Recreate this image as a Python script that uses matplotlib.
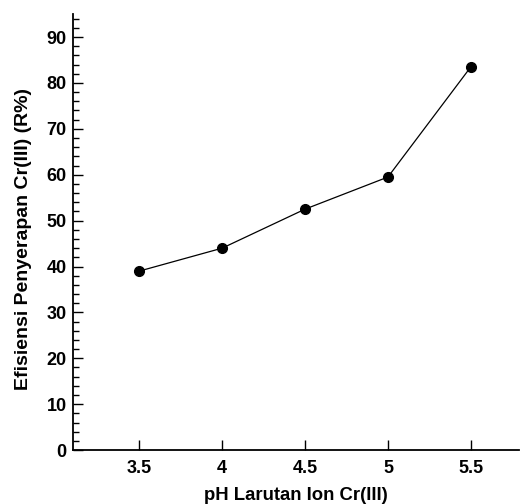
import matplotlib
matplotlib.use('Agg')
import matplotlib.pyplot as plt
from matplotlib.ticker import MultipleLocator

ph = [3.5, 4.0, 4.5, 5.0, 5.5]
efisiensi = [39.0, 44.0, 52.5, 59.5, 83.5]
xticks = [3.5, 4, 4.5, 5, 5.5]
xtick_labels = ['3.5', '4', '4.5', '5', '5.5']

plt.rcParams['font.family'] = ['Liberation Sans', 'DejaVu Sans']
plt.rcParams['font.weight'] = 'bold'

fig = plt.figure(figsize=(5.21, 5.04), dpi=100)
ax = fig.add_axes([0.140, 0.107, 0.856, 0.865])

ax.plot(ph, efisiensi, color='black', linewidth=0.9, marker='o',
        markersize=7, markerfacecolor='black', markeredgecolor='black')

ax.set_xlim(3.1, 5.79)
ax.set_ylim(0, 95)
ax.set_xticks(xticks)
ax.set_xticklabels(xtick_labels)
ax.yaxis.set_major_locator(MultipleLocator(10))
ax.yaxis.set_minor_locator(MultipleLocator(2))

for side in ['top', 'right']:
    ax.spines[side].set_visible(False)
for side in ['left', 'bottom']:
    ax.spines[side].set_linewidth(1.3)

ax.tick_params(axis='both', which='major', direction='in', length=7, width=1,
               labelsize=13)
ax.tick_params(axis='x', which='major', pad=7)
ax.tick_params(axis='y', which='major', pad=4.5)
ax.tick_params(axis='y', which='minor', direction='in', length=4, width=1)
for lab in ax.get_xticklabels() + ax.get_yticklabels():
    lab.set_fontweight('bold')

ax.set_xlabel('pH Larutan Ion Cr(III)', fontsize=13.3, fontweight='bold', labelpad=7)
ax.set_ylabel('Efisiensi Penyerapan Cr(III) (R%)', fontsize=14, fontweight='bold')
ax.yaxis.set_label_coords(-0.092, 0.485)

fig.savefig('out.png', dpi=100)
